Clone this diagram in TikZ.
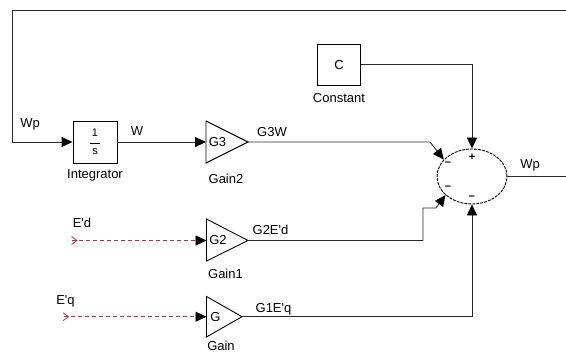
\documentclass[tikz,border=0pt]{standalone}
\usepackage{fontspec}
\setmainfont{Liberation Sans}
\usetikzlibrary{arrows.meta,shapes.geometric,calc}
\definecolor{sigred}{RGB}{185,45,75}
\definecolor{wire}{RGB}{40,40,40}
\tikzset{
  wireline/.style={draw=wire, line width=0.9pt},
  arr/.style={wireline, -{Triangle[length=11pt,width=10pt,color=black]}},
  blockbox/.style={draw=black, line width=0.9pt, rectangle, inner sep=0pt},
  lbl/.style={font=\fontsize{13}{15}\selectfont, inner sep=0pt},
  sgn/.style={font=\fontsize{11}{12}\selectfont\bfseries, inner sep=0pt},
  redsig/.style={draw=sigred, line width=0.9pt, dash pattern=on 4pt off 3pt},
}
\begin{document}
\begin{tikzpicture}[x=1pt,y=-1pt]
\useasboundingbox (0,0) rectangle (566,353);
\fill[white] (0,0) rectangle (566,353);

% blocks
\node[blockbox, minimum width=43pt, minimum height=41.5pt] (const) at (339,65) {};
\node[lbl] (cl) at (const.center) {C};
\node[lbl] (constlbl) at (339,98.5) {Constant};

\node[blockbox, minimum width=44pt, minimum height=42pt] (integ) at (95,142) {};
\node[lbl, font=\fontsize{11}{12}\selectfont] (one) at (95,133) {1};
\node[lbl, font=\fontsize{11}{12}\selectfont] (s) at (95,152) {s};
\draw[line width=0.6pt] (90,143) -- (100,143);
\node[lbl] (integlbl) at (95,175.5) {Integrator};

% gains
\draw[line width=0.9pt] (206,121) -- (248,142) -- (206,163) -- cycle;
\coordinate (g2in) at (206,142);
\coordinate (g2out) at (248,142);
\node[lbl] (g2t) at (217.5,142) {G3};
\node[lbl] (g2lbl) at (226,178.5) {Gain2};

\draw[line width=0.9pt] (206.5,219) -- (248,240.5) -- (206.5,261) -- cycle;
\coordinate (g1in) at (206.5,240.5);
\coordinate (g1out) at (248,240.5);
\node[lbl] (g1t) at (218,240.5) {G2};
\node[lbl] (g1lbl) at (225.5,274) {Gain1};

\draw[line width=0.9pt] (206.5,296.5) -- (242,316.7) -- (206.5,337) -- cycle;
\coordinate (g0in) at (206.5,316.7);
\coordinate (g0out) at (242,316.7);
\node[lbl] (g0t) at (215.5,316.7) {G};
\node[lbl] (g0lbl) at (221,346) {Gain};

% sum
\node[draw=black, line width=0.9pt, dash pattern=on 3pt off 1pt, ellipse,
      minimum width=70pt, minimum height=55pt, inner sep=0pt] (sum) at (472,176.5) {};
\node[sgn] (sp) at (472,157) {+};
\node[sgn] (sm1) at (448,164) {--};
\node[sgn] (sm2) at (448,188) {--};
\node[sgn] (sm3) at (472,197.5) {--};

% feedback loop
\coordinate (outend) at (566,176.5);
\coordinate (topright) at (566,10);
\coordinate (topleft) at (12.3,10);
\coordinate (leftdown) at (12.3,142);
\draw[wireline] (sum.east) -- (outend);
\node[lbl] (wpout) at (530,165.5) {Wp};
\draw[arr] (topright) -- (topleft) -- (leftdown) -- (integ.west);
\node[lbl] (wpin) at (30,124.5) {Wp};

\draw[arr] (integ.east) -- (g2in);
\node[lbl] (wl) at (137,131) {W};

\coordinate (c1) at (430,142);
\draw[arr] (g2out) -- (c1) -- (sum.149);
\node[lbl] (g3w) at (272,132) {G3W};

\coordinate (c2) at (472,64.5);
\draw[arr] (const.east |- c2) -- (c2) -- (sum.north);

\coordinate (d1) at (423,240.5);
\coordinate (d2) at (423,208);
\coordinate (d3) at (436,208);
\draw[arr] (g1out) -- (d1) -- (d2) -- (d3) -- (sum.215);
\node[lbl] (g2ed) at (270.5,229.5) {G2E\textquotesingle d};

\coordinate (q1) at (472,316.7);
\draw[arr] (g0out) -- (q1) -- (sum.south);
\node[lbl] (g1eq) at (273.5,309.5) {G1E\textquotesingle q};

% inputs
\coordinate (edin) at (72,240.5);
\draw[redsig] (edin) -- ($(g1in)+(-10,0)$);
\draw[arr] ($(g1in)+(-11,0)$) -- (g1in);
\draw[sigred, line width=0.8pt] (71.5,236.5) -- (77,240.5) -- (71.5,244.5);
\node[lbl] (edl) at (82,223) {E\textquotesingle d};

\coordinate (eqin) at (64,316.7);
\draw[redsig] (eqin) -- ($(g0in)+(-10,0)$);
\draw[arr] ($(g0in)+(-11,0)$) -- (g0in);
\draw[sigred, line width=0.8pt] (63,312.7) -- (68.5,316.7) -- (63,320.7);
\node[lbl] (eql) at (65.5,301.5) {E\textquotesingle q};
\end{tikzpicture}
\end{document}
